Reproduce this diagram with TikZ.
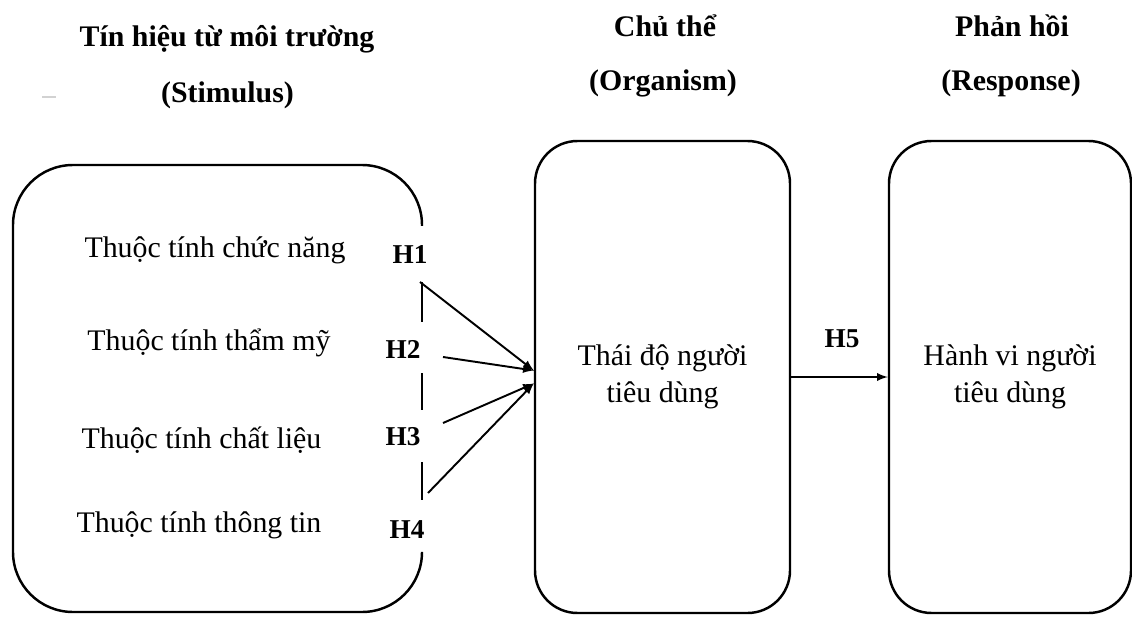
\documentclass[tikz,border=0pt]{standalone}
\usepackage{fontspec}
\setmainfont{Liberation Serif}
\usepackage{tikz}
\usetikzlibrary{arrows, positioning}

\tikzset{
    head/.style={font=\fontsize{17}{21}\selectfont\bfseries, anchor=base, inner sep=0pt},
    item/.style={font=\fontsize{17}{21}\selectfont, anchor=base, inner sep=0pt},
    hyp/.style={font=\fontsize{15.5}{18}\selectfont\bfseries, anchor=base, inner sep=0pt},
    block/.style={draw, line width=1.4pt, rounded corners=0.85cm, minimum width=#1,
        minimum height=9.44cm, align=center, font=\fontsize{17}{21}\selectfont},
    link/.style={-latex, line width=1.1pt}
}

\begin{document}
\begin{tikzpicture}
    \useasboundingbox (0,0) rectangle (22.64,12.32);

    % Column headings
    \node[head] (hs1) at (4.54,11.38) {Tín hiệu từ môi trường};
    \node[head] (hs2) at (4.55,10.26) {(Stimulus)};
    \node[head] (ho1) at (13.30,11.58) {Chủ thể};
    \node[head] (ho2) at (13.26,10.50) {(Organism)};
    \node[head] (hr1) at (20.24,11.58) {Phản hồi};
    \node[head] (hr2) at (20.22,10.50) {(Response)};
    \draw[gray!35, line width=0.6pt] (0.84,10.38) -- (1.12,10.38);

    % Stimulus box (right side broken)
    \draw[line width=1.4pt, rounded corners=1.2cm]
        (8.44,7.8) -- (8.44,9.02) -- (0.26,9.02) -- (0.26,0.08) -- (8.44,0.08) -- (8.44,1.25);
    \foreach \ya/\yb in {6.68/5.88, 4.86/4.12, 3.08/2.32} {
        \draw[line width=1.4pt] (8.44,\ya) -- (8.44,\yb);
    }

    % Attributes and hypotheses
    \foreach \i/\x/\y/\txt in {1/4.30/7.18/chức năng, 2/4.18/5.32/thẩm mỹ, 3/4.03/3.36/chất liệu, 4/3.98/1.68/thông tin} {
        \node[item] (a\i) at (\x,\y) {Thuộc tính \txt};
    }
    \foreach \i/\x/\y in {1/8.20/7.06, 2/8.06/5.16, 3/8.06/3.42, 4/8.14/1.56} {
        \node[hyp] (h\i) at (\x,\y) {H\i};
    }

    % Organism and response boxes
    \node[block=5.1cm] (org) at (13.25,4.78) {Thái độ người\\tiêu dùng};
    \node[block=4.84cm] (resp) at (20.20,4.78) {Hành vi người\\tiêu dùng};

    % Arrows into the organism
    \coordinate (s1) at (8.40,6.68);
    \coordinate (s2) at (8.86,5.18);
    \coordinate (s3) at (8.86,3.86);
    \coordinate (s4) at (8.56,2.46);
    \coordinate (t1) at ([yshift=0.13cm]org.west);
    \coordinate (t2) at ([yshift=-0.13cm]org.west);
    \draw[link] (s1) -- (t1);
    \draw[link] (s2) -- (t1);
    \draw[link] (s3) -- (t2);
    \draw[link] (s4) -- (t2);

    % Organism to response
    \draw[link] (org.east) -- (resp.west);
    \node[hyp] (h5) at (16.84,5.38) {H5};
\end{tikzpicture}
\end{document}
